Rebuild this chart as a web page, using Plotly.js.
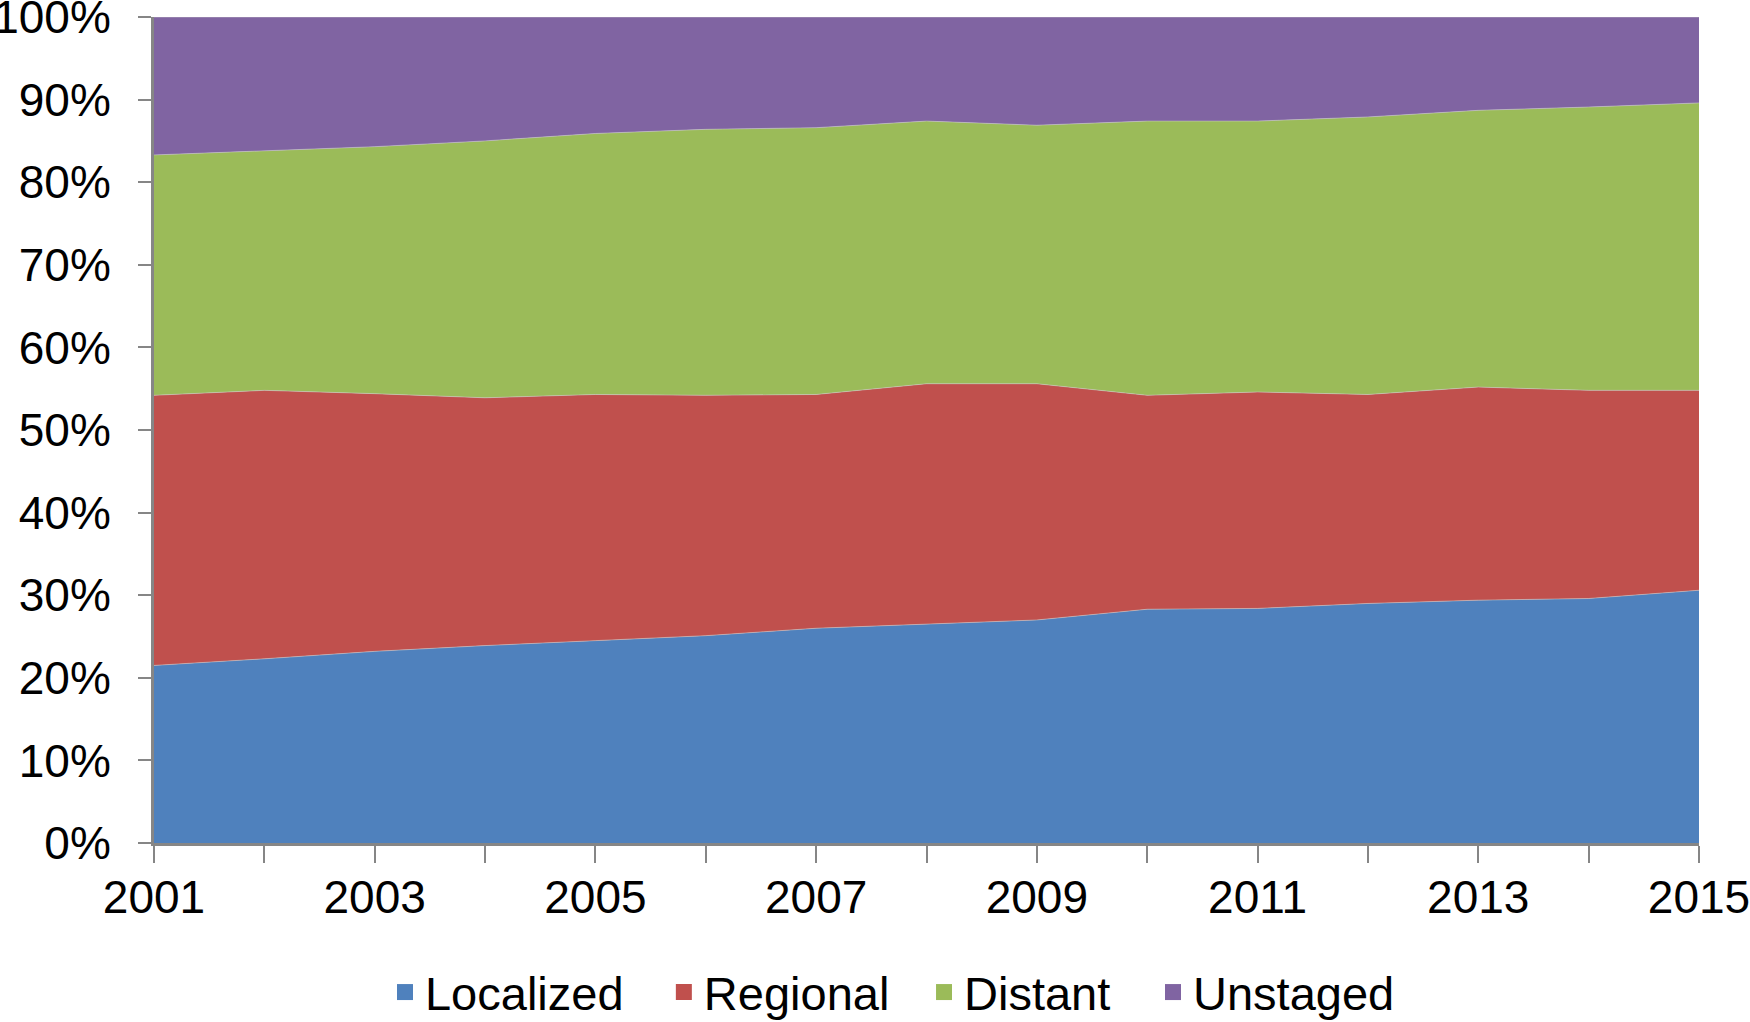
<!DOCTYPE html>
<html>
<head>
<meta charset="utf-8">
<script src="https://cdn.plot.ly/plotly-3.0.1.min.js"></script>
<style>html,body{margin:0;padding:0;background:#fff;}#chart{width:1750px;height:1022px;}</style>
</head>
<body>
<div id="chart"></div>
<script>
const years = [2001,2002,2003,2004,2005,2006,2007,2008,2009,2010,2011,2012,2013,2014,2015];
const localized = [21.5,22.3,23.2,23.9,24.5,25.1,26.0,26.5,27.0,28.3,28.4,29.0,29.4,29.6,30.6];
const regional  = [32.7,32.5,31.2,30.0,29.8,29.1,28.3,29.1,28.6,25.9,26.2,25.3,25.8,25.2,24.2];
const distant   = [29.1,29.0,29.9,31.1,31.6,32.2,32.3,31.8,31.3,33.2,32.8,33.6,33.5,34.3,34.8];
const unstaged  = [16.7,16.2,15.7,15.0,14.1,13.6,13.4,12.6,13.1,12.6,12.6,12.1,11.3,10.9,10.4];
const seriesNames = ["Localized","Regional","Distant","Unstaged"];
const seriesColors = ["#4F81BD","#C0504D","#9BBB59","#8064A2"];
const xTickVals = years;
const xTickText = ["2001","","2003","","2005","","2007","","2009","","2011","","2013","","2015"];
const yTickVals = [0,10,20,30,40,50,60,70,80,90,100];
const yTickText = ["0%","10%","20%","30%","40%","50%","60%","70%","80%","90%","100%"];

const values = [localized, regional, distant, unstaged];
const legendIds = ["legend","legend2","legend3","legend4"];
const legendX = [0.1495, 0.3300, 0.4984, 0.6466];
const traces = [];
values.forEach((v, i) => {
  traces.push({
    x: years, y: v, type: "scatter", mode: "lines",
    stackgroup: "one", name: seriesNames[i],
    fillcolor: seriesColors[i],
    line: {width: 1, color: "rgba(200,200,200,0.55)"},
    showlegend: false, hoverinfo: "x+y+name"
  });
});
values.forEach((v, i) => {
  traces.push({
    x: [null], y: [null], type: "scatter", mode: "markers",
    name: seriesNames[i], legend: legendIds[i],
    marker: {symbol: "square", size: 22, color: seriesColors[i]},
    showlegend: true
  });
});

const font = {family: "Liberation Sans, Arial, sans-serif", size: 46, color: "#000"};
const legendFont = {family: "Liberation Sans, Arial, sans-serif", size: 47, color: "#000"};
const layout = {
  width: 1750, height: 1022,
  margin: {l: 154, r: 51, t: 17, b: 179, autoexpand: false},
  paper_bgcolor: "#fff", plot_bgcolor: "#fff",
  font: font,
  showlegend: true,
  xaxis: {
    range: [2001, 2015], tickmode: "array", tickvals: xTickVals, ticktext: xTickText,
    showgrid: false, zeroline: false, showline: true, linecolor: "#868686", linewidth: 3,
    ticks: "outside", ticklen: 17, tickwidth: 2, tickcolor: "#868686",
    tickfont: font, ticklabelstandoff: -5, ticklabeloverflow: "allow", fixedrange: true
  },
  yaxis: {
    range: [0, 100], tickmode: "array", tickvals: yTickVals, ticktext: yTickText,
    showgrid: false, zeroline: false, showline: true, linecolor: "#868686", linewidth: 3,
    ticks: "outside", ticklen: 13, tickwidth: 2, tickcolor: "#868686",
    tickfont: font, ticklabelstandoff: 18, ticklabeloverflow: "allow", fixedrange: true
  }
};
legendIds.forEach((id, i) => {
  layout[id] = {orientation: "h", x: legendX[i], xanchor: "left", y: -0.181, yanchor: "middle",
                font: legendFont, itemwidth: 30, bgcolor: "rgba(0,0,0,0)"};
});
Plotly.newPlot("chart", traces, layout, {displayModeBar: false, staticPlot: true});
</script>
</body>
</html>
